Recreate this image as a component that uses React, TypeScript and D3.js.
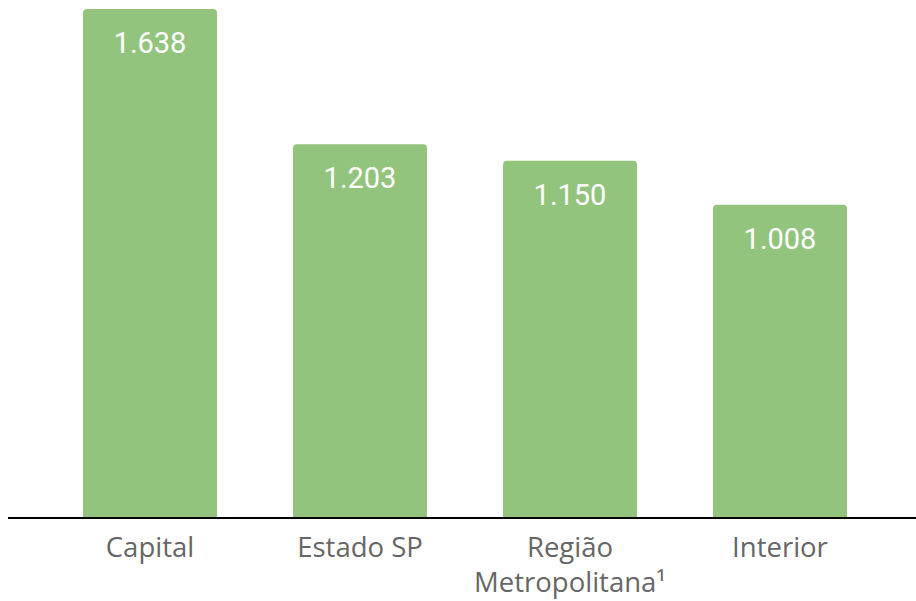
import React from "react";
import * as d3 from "d3";

const categories: string[][] = [["Capital"], ["Estado SP"], ["Região", "Metropolitana¹"], ["Interior"]];
const values: number[] = [1638, 1203, 1150, 1008];
const valueLabels: string[] = ["1.638", "1.203", "1.150", "1.008"];

const W = 916;
const H = 601;

export default function App() {
  const keys = categories.map((c) => c.join(" "));
  const x = d3.scaleBand<string>().domain(keys).range([45, 885]).paddingInner(0.362).paddingOuter(0.181);
  const y = d3.scaleLinear().domain([0, 1638]).range([518, 9]);
  const r = 4;
  const barPath = (x0: number, w: number, top: number, bottom: number) => {
    const p = d3.path();
    p.moveTo(x0, bottom);
    p.lineTo(x0, top + r);
    p.arcTo(x0, top, x0 + r, top, r);
    p.lineTo(x0 + w - r, top);
    p.arcTo(x0 + w, top, x0 + w, top + r, r);
    p.lineTo(x0 + w, bottom);
    p.closePath();
    return p.toString();
  };
  return (
    <svg width={W} height={H} style={{ position: "absolute", left: 0, top: 0, background: "#fff" }}>
      {values.map((v, i) => {
        const k = keys[i];
        const bx = x(k)!;
        const bw = x.bandwidth();
        return (
          <g key={k}>
            <path d={barPath(bx, bw, y(v), y(0))} fill="#93c47d" />
            <text
              x={bx + bw / 2}
              y={y(v) + 44}
              textAnchor="middle"
              fill="#ffffff"
              fontFamily="Roboto, sans-serif"
              fontSize={29}
            >
              {valueLabels[i]}
            </text>
            {categories[i].map((line, j) => (
              <text
                key={j}
                x={bx + bw / 2}
                y={557 + j * 35}
                textAnchor="middle"
                fill="#666666"
                fontFamily="'Open Sans', sans-serif"
                fontSize={27.5}
              >
                {line}
              </text>
            ))}
          </g>
        );
      })}
      <line x1={8} x2={916} y1={518} y2={518} stroke="#000" strokeWidth={2} />
    </svg>
  );
}
